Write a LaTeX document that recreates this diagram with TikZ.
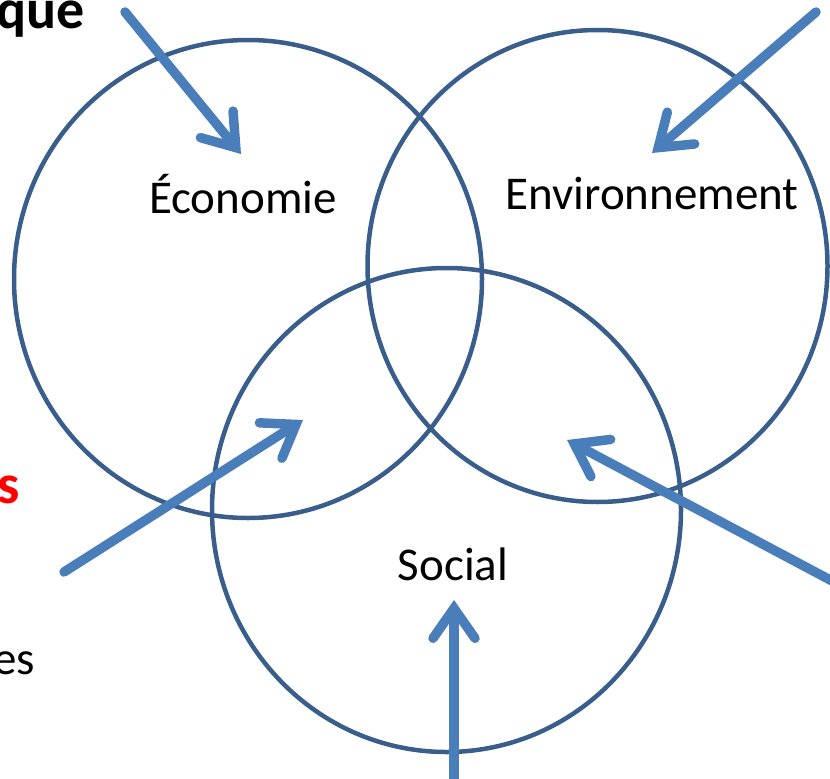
\documentclass[tikz,border=0pt]{standalone}
\usepackage{fontspec}
\setmainfont{Carlito}
\usepackage{tikz}
\usetikzlibrary{arrows.meta}

\definecolor{ringblue}{RGB}{58,94,140}
\definecolor{arrowblue}{RGB}{74,126,187}

\tikzset{
  ring/.style={draw=ringblue, line width=4.5pt},
  pointer/.style={draw=arrowblue, line width=9.5pt, line cap=round,
    -{Straight Barb[length=30pt, width=42pt, line cap=round, line join=miter]}},
  label/.style={inner sep=0pt, font=\fontsize{47}{56}\selectfont},
  title/.style={inner sep=0pt, anchor=base east, font=\fontsize{56}{66}\selectfont\bfseries}
}

\begin{document}
\begin{tikzpicture}[x=1pt,y=1pt,yscale=-1,xscale=1]
    \useasboundingbox (0,0) rectangle (830,779);

    %Circles
    \draw [ring] (248,279) ellipse (234 and 239) ;
    \draw [ring] (597.5,266) ellipse (230 and 236) ;
    \draw [ring] (446.5,510) ellipse (234.5 and 242) ;

    % Text Node
    \node [label] (eco) at (243,194) {Économie};
    % Text Node
    \node [label] (env) at (652,194) {Environnement};
    % Text Node
    \node [label] (soc) at (453,564) {Social};
    % Text Node
    \node [title] (top) at (85,28) {que};
    % Text Node
    \node [title, text=red] (mid) at (20,503) {ts};
    % Text Node
    \node [label, anchor=base east] (low) at (35,674) {es};

    %Arrows
    \coordinate (ecoS) at (125,12) ;   \coordinate (ecoT) at (241,154) ;
    \coordinate (envS) at (816,12) ;   \coordinate (envT) at (652,153) ;
    \coordinate (lftS) at (64,572) ;   \coordinate (lftT) at (303,420) ;
    \coordinate (rgtS) at (834,582) ;  \coordinate (rgtT) at (567,440) ;
    \coordinate (botS) at (454,785) ;  \coordinate (botT) at (454,600) ;
    \draw [pointer] (ecoS) -- (ecoT) ;
    \draw [pointer] (envS) -- (envT) ;
    \draw [pointer] (lftS) -- (lftT) ;
    \draw [pointer] (rgtS) -- (rgtT) ;
    \draw [pointer] (botS) -- (botT) ;

\end{tikzpicture}
\end{document}
